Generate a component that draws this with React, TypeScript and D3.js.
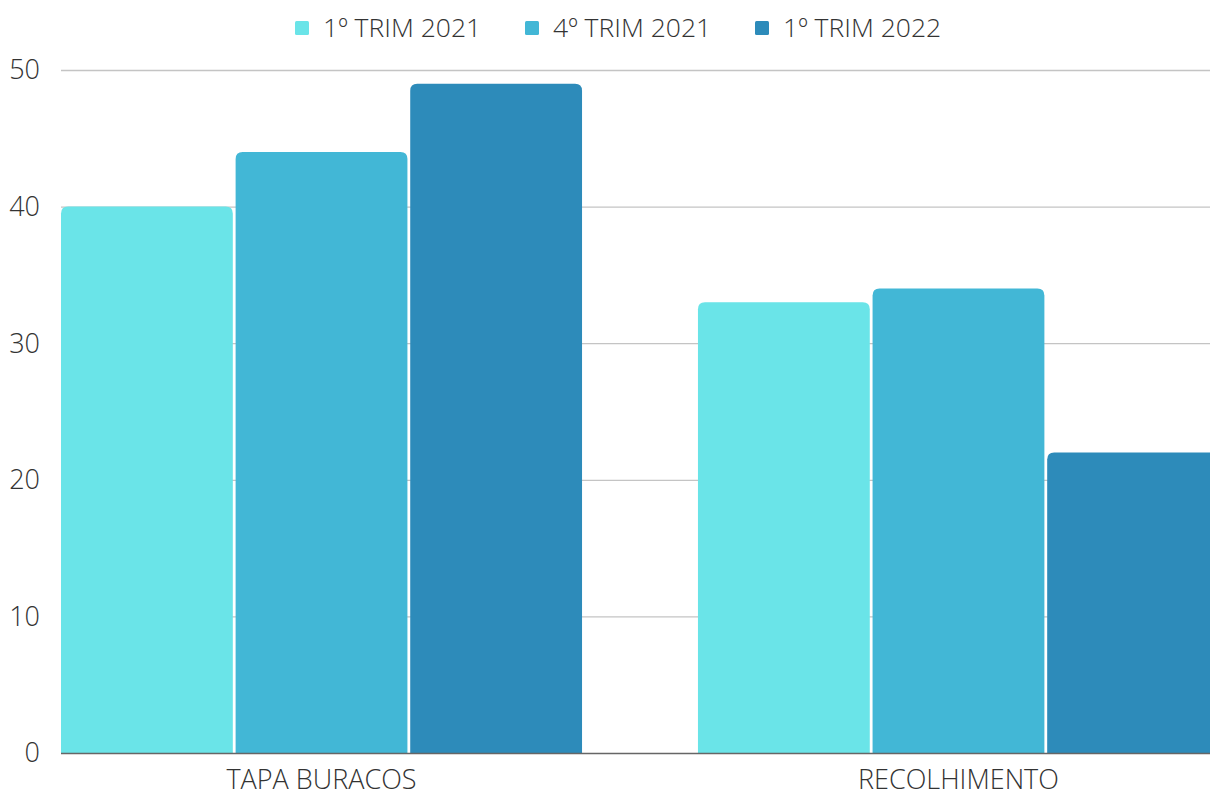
import React from "react";
import * as d3 from "d3";

const categories = ["TAPA BURACOS", "RECOLHIMENTO"];
const seriesNames = ["1º TRIM 2021", "4º TRIM 2021", "1º TRIM 2022"];
const seriesColors = ["#6ae4e8", "#42b7d6", "#2d8bba"];
const values1T2021 = [40, 33];
const values4T2021 = [44, 34];
const values1T2022 = [49, 22];
const yTicks = [0, 10, 20, 30, 40, 50];

const W = 1210;
const H = 796;
const plotLeft = 61;
const plotTop = 70;
const plotBottom = 753;
const font = "'Open Sans', sans-serif";

function roundedTop(x: number, y: number, w: number, h: number, r: number) {
  const rr = Math.min(r, w / 2, h);
  return `M${x},${y + h}V${y + rr}Q${x},${y} ${x + rr},${y}H${x + w - rr}Q${x + w},${y} ${x + w},${y + rr}V${y + h}Z`;
}

export default function App() {
  const seriesValues = [values1T2021, values4T2021, values1T2022];
  const y = d3.scaleLinear().domain([0, 50]).range([plotBottom, plotTop]);
  const x0 = d3
    .scaleBand<string>()
    .domain(categories)
    .range([plotLeft, 1219])
    .paddingInner(0.182)
    .paddingOuter(0);
  const x1 = d3
    .scaleBand<string>()
    .domain(seriesNames)
    .range([0, x0.bandwidth()])
    .paddingInner(0.016);

  const legendX = [295, 525, 755];

  return (
    <svg width={W} height={H} style={{ position: "absolute", left: 0, top: 0, overflow: "hidden" }}>
      <rect x={0} y={0} width={W} height={H} fill="#fff" />
      {yTicks.map((t) =>
        t === 0 ? null : (
          <line key={t} x1={plotLeft} x2={W} y1={y(t) + 0.5} y2={y(t) + 0.5} stroke="#c4c4c4" strokeWidth={1.3} />
        )
      )}
      {yTicks.map((t) => (
        <text
          key={"l" + t}
          x={40}
          y={y(t)}
          dy="0.35em"
          textAnchor="end"
          fontFamily={font}
          fontWeight={300}
          fontSize={27}
          fill="#333"
        >
          {t}
        </text>
      ))}
      {categories.map((c, ci) =>
        seriesNames.map((s, si) => {
          const v = seriesValues[si][ci];
          const bx = (x0(c) as number) + (x1(s) as number);
          const by = y(v);
          return (
            <path
              key={c + s}
              d={roundedTop(bx, by, x1.bandwidth(), plotBottom - by, 7)}
              fill={seriesColors[si]}
            />
          );
        })
      )}
      <line x1={plotLeft} x2={W} y1={plotBottom + 0.5} y2={plotBottom + 0.5} stroke="#666" strokeWidth={1.5} />
      {categories.map((c) => (
        <text
          key={"c" + c}
          x={(x0(c) as number) + x0.bandwidth() / 2}
          y={789}
          textAnchor="middle"
          fontFamily={font}
          fontWeight={300}
          fontSize={27}
          fill="#333"
        >
          {c}
        </text>
      ))}
      {seriesNames.map((s, i) => (
        <g key={"lg" + s}>
          <rect x={legendX[i]} y={21} width={14} height={14} rx={1.5} fill={seriesColors[i]} />
          <text
            x={legendX[i] + 28}
            y={28}
            dy="0.35em"
            fontFamily={font}
            fontWeight={300}
            fontSize={26.5}
            fill="#333"
          >
            {s}
          </text>
        </g>
      ))}
    </svg>
  );
}
